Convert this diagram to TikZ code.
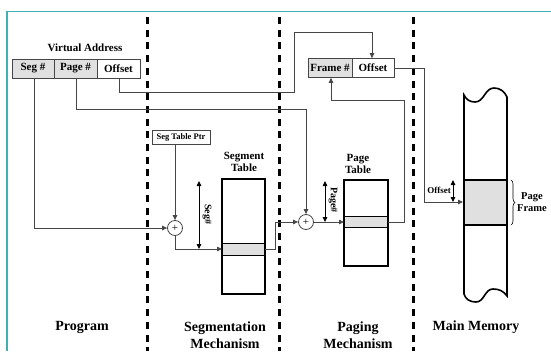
\documentclass[tikz,border=0pt]{standalone}
\usepackage{fontspec}
\setmainfont{Liberation Serif}
\usetikzlibrary{arrows.meta,decorations.pathreplacing}
\definecolor{frameteal}{RGB}{64,176,176}
\definecolor{cellgray}{RGB}{224,224,224}
\definecolor{wire}{RGB}{70,70,70}
\tikzset{
  cell/.style={draw=wire,line width=0.7pt,minimum height=19pt,inner sep=0pt,font=\bfseries\fontsize{11}{12}\selectfont},
  grayfill/.style={fill=cellgray},
  wireline/.style={draw=wire,line width=0.8pt},
  tip/.style={-{Triangle[length=5pt,width=4.5pt]}},
  dimtip/.style={{Triangle[length=5pt,width=4.5pt]}-{Triangle[length=5pt,width=4.5pt]},line width=0.8pt},
  adder/.style={circle,draw=wire,line width=0.8pt,minimum size=15pt,inner sep=0pt,font=\fontsize{11}{11}\selectfont},
  tablebox/.style={draw,line width=1.6pt},
  divider/.style={line width=3pt,dash pattern=on 7pt off 5.7pt},
  head/.style={font=\bfseries\fontsize{11}{12.5}\selectfont,align=center},
  section/.style={font=\bfseries\fontsize{14}{17}\selectfont,align=center},
}
\begin{document}
\begin{tikzpicture}[x=1pt,y=-1pt]
\useasboundingbox (0,0) rectangle (551,351);
% outer frame (top and left edges)
\draw[frameteal,line width=1.6pt] (7,351) -- (7,11.5) -- (551,11.5);

% column dividers
\foreach \xx/\nm in {147/dA,279/dB,413/dC}
  \draw[divider] (\xx,17) -- (\xx,351);

% virtual address
\node[head] (va) at (85,48) {Virtual Address};
\node[cell,grayfill,minimum width=42pt] (seg) at (33,68.5) {Seg \#};
\node[cell,grayfill,minimum width=43pt] (page) at (75.5,68.5) {Page \#};
\node[cell,minimum width=43pt] (off) at (118.5,68.5) {Offset};

% physical address
\node[cell,grayfill,minimum width=44pt] (frm) at (330,68) {Frame \#};
\node[cell,minimum width=42pt] (poff) at (373,68) {Offset};

% segment table pointer
\node[draw=wire,line width=0.7pt,minimum width=58pt,minimum height=14pt,inner sep=0pt,
      font=\bfseries\fontsize{8.5}{9}\selectfont] (stp) at (181,137) {Seg Table Ptr};

% adders
\node[adder] (addS) at (175,228) {+};
\node[adder] (addP) at (306,222) {+};

% segment table
\node[head] (stl) at (244,162) {Segment\\Table};
\fill[cellgray] (222,243) rectangle (265,255);
\draw[line width=0.7pt] (222,243) -- (265,243) (222,255) -- (265,255);
\draw[tablebox] (222,179) rectangle (265,294);
\coordinate (segL) at (222,249);
\coordinate (segR) at (265,249);

% page table
\node[head] (ptl) at (358,164) {Page\\Table};
\fill[cellgray] (344,216) rectangle (388,227);
\draw[line width=0.7pt] (344,216) -- (388,216) (344,227) -- (388,227);
\draw[tablebox] (344,180) rectangle (388,266);
\coordinate (pgL) at (344,222);
\coordinate (pgR) at (388,222);

% main memory
\fill[cellgray] (464,180) rectangle (507,225);
\draw[line width=1.4pt] (464,180) -- (507,180) (464,225) -- (507,225);
\draw[line width=1.6pt]
  (464,294) -- (464,95)
  to[out=-65,in=180] (475,102) to[out=0,in=180] (494,88) to[out=0,in=115] (507,97)
  -- (507,296)
  to[out=125,in=0] (493,289) to[out=180,in=0] (476,302) to[out=180,in=-75] (464,294);
\coordinate (memIn) at (463,202);
\draw[decorate,decoration={brace,amplitude=4pt},line width=0.6pt] (511,180) -- (511,225);
\node[font=\bfseries\fontsize{10.5}{12.5}\selectfont,align=center] (pf) at (532,202) {Page\\Frame};

% dimension arrows
\draw[dimtip] (199,181) -- (199,249);
\node[rotate=-90,font=\bfseries\fontsize{10}{10}\selectfont] (sgn) at (207,214) {Seg\#};
\draw[dimtip] (325,181) -- (325,222);
\node[rotate=-90,font=\bfseries\fontsize{10}{10}\selectfont] (pgn) at (333,200) {Page\#};
\draw[dimtip] (453,180) -- (453,202);
\node[font=\bfseries\fontsize{9}{10}\selectfont] (mo) at (439,190) {Offset};

% address translation paths
\draw[wireline,tip] (seg.south -| 34,0) |- (addS.west);
\draw[wireline,tip] (stp.south -| addS) -- (addS.north);
\draw[wireline,tip] (addS.south) |- (segL);
\draw[wireline,tip] (segR) -- (275,249) |- (addP.west);
\draw[wireline,tip] (page.south -| 76,0) |- (306,109) -- (addP.north);
\draw[wireline,tip] (addP.east) -- (pgL);
\draw[wireline,tip] (pgR) -| (404.5,100) -| (frm.south -| 331,0);
\draw[wireline,tip] (off.south -| 119,0) |- (294,92) |- (372,32) -- (poff.north -| 372,0);
\draw[wireline,tip] (poff.east) -| (424,202) -- (memIn);

% section titles
\node[section] (t1) at (82,327) {Program};
\node[section] (t2) at (225,335.5) {Segmentation\\Mechanism};
\node[section] (t3) at (358,335.5) {Paging\\Mechanism};
\node[section] (t4) at (476,327) {Main Memory};
\end{tikzpicture}
\end{document}
